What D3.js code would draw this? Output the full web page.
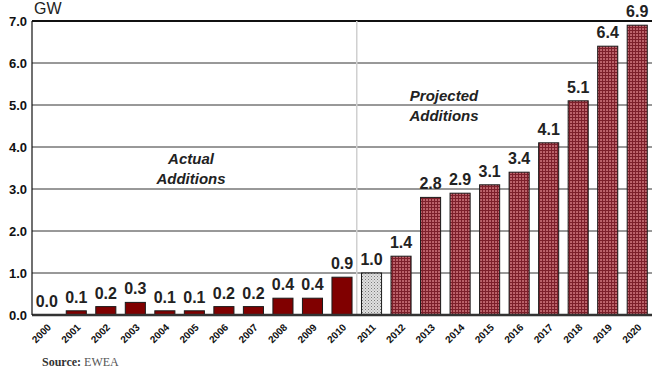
<!DOCTYPE html>
<html>
<head>
<meta charset="utf-8">
<script src="https://cdn.jsdelivr.net/npm/d3@7"></script>
<style>
  body { margin: 0; background: #fff; }
  svg { display: block; }
</style>
</head>
<body>
<div id="chart"></div>
<script>
// data
const years = ["2000","2001","2002","2003","2004","2005","2006","2007","2008","2009","2010",
               "2011","2012","2013","2014","2015","2016","2017","2018","2019","2020"];
const additions = [0.0,0.1,0.2,0.3,0.1,0.1,0.2,0.2,0.4,0.4,0.9,
                   1.0,1.4,2.8,2.9,3.1,3.4,4.1,5.1,6.4,6.9];
// 0 = actual, 1 = current year, 2 = projected
const kind = [0,0,0,0,0,0,0,0,0,0,0, 1, 2,2,2,2,2,2,2,2,2];
const yTicks = [0,1,2,3,4,5,6,7];

const W = 657, H = 387;
const margin = { top: 21, right: 5, bottom: 72, left: 32 };
const width = W - margin.left - margin.right,
      height = H - margin.top - margin.bottom;

const svg = d3.select("#chart").append("svg")
  .attr("width", W).attr("height", H);

// patterns for 2011 and projected bars
const defs = svg.append("defs");
const pg = defs.append("pattern").attr("id", "grey")
  .attr("width", 3).attr("height", 3).attr("patternUnits", "userSpaceOnUse");
pg.append("rect").attr("width", 3).attr("height", 3).attr("fill", "#e0e0e0");
pg.append("rect").attr("width", 1).attr("height", 1).attr("fill", "#7a7a7a");
pg.append("rect").attr("x", 1.5).attr("y", 1.5).attr("width", 1).attr("height", 1).attr("fill", "#9a9a9a");

const pr = defs.append("pattern").attr("id", "proj")
  .attr("width", 3).attr("height", 3).attr("patternUnits", "userSpaceOnUse");
pr.append("rect").attr("width", 3).attr("height", 3).attr("fill", "#b4565e");
pr.append("rect").attr("width", 3).attr("height", 1).attr("fill", "#7c1f2a");
pr.append("rect").attr("width", 1).attr("height", 3).attr("fill", "#7c1f2a");
pr.append("rect").attr("x", 1.6).attr("y", 1.6).attr("width", 0.9).attr("height", 0.9).attr("fill", "#d89098");

const g = svg.append("g")
  .attr("transform", "translate(" + margin.left + "," + margin.top + ")");

const x = d3.scaleBand()
  .domain(years)
  .range([0, width])
  .paddingInner(0.32)
  .paddingOuter(0.16);

const y = d3.scaleLinear()
  .domain([0, 7])
  .range([height, 0]);

// gridlines
g.append("g")
  .selectAll("line")
  .data(yTicks.filter(d => d > 0))
  .enter().append("line")
  .attr("x1", 0).attr("x2", width)
  .attr("y1", d => y(d)).attr("y2", d => y(d))
  .attr("stroke", d => d == 7 ? "#111" : "#333")
  .attr("stroke-width", d => d == 7 ? 2 : 1);

// divider between actual and projected
const splitX = x("2011") - x.step() * x.paddingInner() / 2;
g.append("line")
  .attr("x1", splitX).attr("x2", splitX)
  .attr("y1", 0).attr("y2", height)
  .attr("stroke", "#d0d0d0").attr("stroke-width", 1.5);

// bars
g.selectAll(".bar")
  .data(years)
  .enter().append("rect")
  .attr("class", "bar")
  .attr("x", d => x(d))
  .attr("y", (d, i) => y(additions[i]))
  .attr("width", x.bandwidth())
  .attr("height", (d, i) => height - y(additions[i]))
  .attr("fill", (d, i) => kind[i] == 0 ? "#800000" : (kind[i] == 1 ? "url(#grey)" : "url(#proj)"))
  .attr("stroke", "#1a1a1a")
  .attr("stroke-width", (d, i) => additions[i] > 0 ? 1 : 0);

// value labels
g.selectAll(".val")
  .data(years)
  .enter().append("text")
  .attr("x", d => x(d) + x.bandwidth() / 2)
  .attr("y", (d, i) => y(additions[i]) - 8)
  .attr("text-anchor", "middle")
  .attr("font-family", "Liberation Sans, Arial, sans-serif")
  .attr("font-weight", "bold")
  .attr("font-size", 16)
  .attr("fill", "#222")
  .text((d, i) => d3.format(".1f")(additions[i]));

// axes lines
g.append("line")
  .attr("x1", 0).attr("x2", width)
  .attr("y1", height).attr("y2", height)
  .attr("stroke", "#333").attr("stroke-width", 2.5);
g.append("line")
  .attr("x1", 0).attr("x2", 0)
  .attr("y1", 0).attr("y2", height)
  .attr("stroke", "#111").attr("stroke-width", 1.2);

// y tick labels
g.selectAll(".ytick")
  .data(yTicks)
  .enter().append("text")
  .attr("x", -5)
  .attr("y", d => y(d) + 5)
  .attr("text-anchor", "end")
  .attr("font-family", "Liberation Sans, Arial, sans-serif")
  .attr("font-weight", "bold")
  .attr("font-size", 13)
  .attr("fill", "#111")
  .text(d => d3.format(".1f")(d));

// x labels, rotated
g.selectAll(".xtick")
  .data(years)
  .enter().append("text")
  .attr("transform", d => "translate(" + (x(d) + x.bandwidth() / 2 + 5) + "," + (height + 13) + ") rotate(-45)")
  .attr("text-anchor", "end")
  .attr("font-family", "Liberation Sans, Arial, sans-serif")
  .attr("font-weight", "bold")
  .attr("font-size", 10)
  .attr("fill", "#111")
  .text(d => d);

// unit
svg.append("text")
  .attr("x", 34).attr("y", 14)
  .attr("font-family", "Liberation Sans, Arial, sans-serif")
  .attr("font-size", 16)
  .attr("fill", "#222")
  .text("GW");

// annotations
const note = (lines, cx, cy) => {
  const t = svg.append("text")
    .attr("text-anchor", "middle")
    .attr("font-family", "Liberation Sans, Arial, sans-serif")
    .attr("font-style", "italic")
    .attr("font-weight", "bold")
    .attr("font-size", 15)
    .attr("fill", "#222");
  lines.forEach((l, i) => t.append("tspan").attr("x", cx).attr("y", cy + i * 20).text(l));
};
note(["Actual", "Additions"], 191, 164);
note(["Projected", "Additions"], 444, 101);

// source
const src = svg.append("text")
  .attr("x", 42).attr("y", 366)
  .attr("font-family", "Liberation Serif, Times New Roman, serif")
  .attr("font-size", 12);
src.append("tspan").attr("fill", "#333").attr("font-weight", "bold").text("Source: ");
src.append("tspan").attr("fill", "#555").text("EWEA");
</script>
</body>
</html>
